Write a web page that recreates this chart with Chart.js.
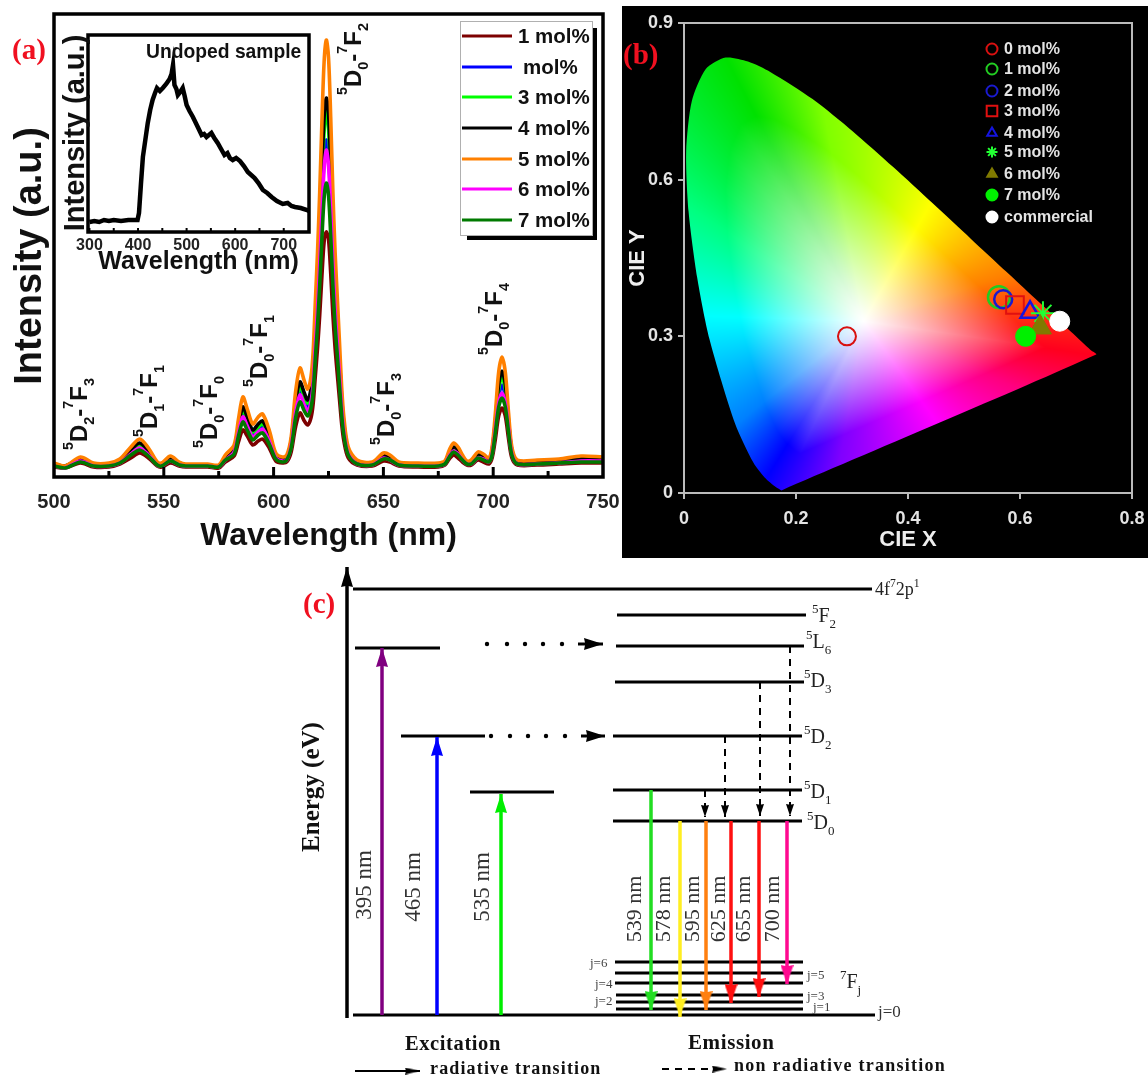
<!DOCTYPE html>
<html><head><meta charset="utf-8">
<script src="https://cdn.jsdelivr.net/npm/chart.js@4"></script>
<style>
html,body{margin:0;padding:0;background:#fff}
#page{position:relative;width:1148px;height:1080px;overflow:hidden}
canvas{position:absolute;display:block;filter:blur(.4px)}
</style></head>
<body><div id="page">
<canvas id="panelA" width="622" height="560" style="left:0;top:0;width:622px;height:560px"></canvas>
<canvas id="inset" width="260" height="255" style="left:60px;top:25px;width:260px;height:255px"></canvas>
<canvas id="panelB" width="526" height="552" style="left:622px;top:6px;width:526px;height:552px"></canvas>
<canvas id="panelC" width="710" height="525" style="left:290px;top:555px;width:710px;height:525px"></canvas>
</div>
<script>
/* ---------- panel (a) data ---------- */
const wavelengths=[500,505,512,518,525,530,535,539,543,547,549,553,557,560,570,575,578,582,584,586,588,590.5,593,595,598,601,604,606,608,610,612,614,615.5,617,618,619,620,621,622,623,624,625,626,627,628,629,630,631,632,634,638,645,650,653,657,665,675,678,680,682,684,686,688,690,693,695.5,698,699.5,701,702.5,704,705.5,707,708.5,711,720,730,740,750];
const mol1=[10,9,14,10,10,13,19,24,19,11,10,14,11,10,10,9,15,21,35,47,41,32,36,38,29,16,14,15,25,50,64,56,52,59,73,101,129,162,201,235,245,238,204,162,129,103,78,53,36,19,12,11,16,15,11,10,10,12,18,22,19,15,12,12,17,15,13,19,38,61,69,61,38,19,12,12,13,14,14];
const mol2=[12,10,17,12,12,15,24,31,24,13,12,18,13,11,11,11,18,26,46,63,54,42,47,50,37,20,17,18,32,67,85,75,69,78,97,135,174,220,273,319,337,323,277,220,174,139,105,70,47,24,15,13,20,18,13,12,12,14,22,28,24,18,14,15,21,19,16,24,50,81,92,81,50,24,15,15,15,18,17];
const mol3=[12,10,17,12,12,15,25,32,25,13,12,18,13,11,11,11,19,27,49,67,57,45,50,53,40,20,17,19,34,71,91,80,74,84,104,146,187,237,295,345,367,349,299,237,187,150,113,75,50,25,15,13,20,19,13,12,12,14,23,29,25,19,14,15,21,20,16,25,54,88,100,88,54,25,15,15,15,18,17];
const mol4=[13,11,18,13,13,17,27,34,26,14,13,19,14,12,12,11,20,29,51,70,60,47,53,56,42,22,18,20,36,75,95,84,77,88,109,152,196,248,308,360,379,364,312,248,196,157,118,79,53,27,16,14,22,20,14,13,13,15,24,30,27,20,15,16,23,21,17,27,56,93,106,93,56,27,16,16,17,19,18];
const mol5=[14,11,20,14,14,18,30,38,29,15,14,21,15,13,13,12,22,32,58,80,68,53,60,63,47,24,20,22,40,85,109,96,88,100,125,175,225,285,355,415,437,420,360,285,225,180,135,90,60,30,17,15,24,22,15,14,14,16,27,34,30,22,16,17,25,23,19,30,64,105,120,105,64,30,17,17,18,21,20];
const mol6=[11,9,16,11,11,14,23,29,22,12,11,16,12,11,11,10,17,25,44,60,51,40,45,48,36,19,16,17,31,64,82,72,66,75,93,130,167,212,264,308,327,312,267,212,167,134,101,68,45,23,13,12,19,17,12,11,11,13,21,26,23,17,13,13,19,18,15,23,48,74,84,74,48,23,13,13,14,16,16];
const mol7=[11,9,15,11,11,14,22,27,21,12,11,16,12,11,11,10,17,23,41,55,47,37,42,44,33,18,15,17,29,59,75,66,61,69,85,119,152,192,239,279,294,282,242,192,152,122,92,62,42,22,13,12,18,17,12,11,11,13,20,25,22,17,13,13,19,17,15,22,45,70,79,70,45,22,13,13,14,15,15];
const seriesLabels=['1 mol%',' mol%','3 mol%','4 mol%','5 mol%','6 mol%','7 mol%'];
const seriesColors=['#7d0000','#0000ff','#00ff00','#000000','#ff8000','#ff00ff','#007a00'];
const majorTicksA=[550,600,650,700];
const minorTicksA=[525,575,625,675,725];
/* ---------- inset data ---------- */
const undopedWl=[300,310,320,330,340,350,365,380,399,402,406,410,415,420,425,430,435,439,445,451,458,465,469,472,475,479,482,487,492,496,500,506,513,522,531,536,541,546,551,557,564,571,578,584,589,595,602,610,618,626,633,640,648,657,666,675,686,698,708,716,723,735,748,752];
const undopedI=[10,11,10,12,11,12,11,12,12,19,48,75,92,109,122,132,139,144,141,144,148,153,158,167,147,143,137,140,144,136,127,121,115,106,97,98,95,97,99,94,89,83,77,79,74,72,74,71,66,60,57,54,49,42,39,35,31,28,29,26,25,24,22,21];
const insetTicks=[300,350,400,450,500,550,600,650,700];
/* ---------- panel (b) data ---------- */
const locusX=[.1741,.1644,.1440,.1241,.0913,.0454,.0235,.0082,.0039,.0139,.0389,.0743,.1142,.1547,.2296,.3016,.3731,.4441,.5125,.5752,.6270,.6915,.7260,.7360,.1741];
const locusY=[.0050,.0109,.0297,.0578,.1327,.2950,.4127,.5384,.6548,.7502,.8120,.8338,.8262,.8059,.7543,.6923,.6245,.5547,.4866,.4242,.3725,.3083,.2740,.2650,.0050];
const cieLabels=['0 mol%','1 mol%','2 mol%','3 mol%','4 mol%','5 mol%','6 mol%','7 mol%','commercial'];
const cieX=[.291,.5625,.570,.591,.618,.641,.636,.610,.671];
const cieY=[.300,.375,.371,.360,.346,.344,.317,.300,.329];
const cieColors=['#d81010','#22cc22','#1a1ad0','#e01010','#1414e0','#22ff33','#807a00','#00f000','#ffffff'];
const cieStyles=['circle','circle','circle','rect','triangle','star','triangle','circle','circle'];
const cieFilled=[false,false,false,false,false,false,true,true,true];
const cieXTicks=['0','0.2','0.4','0.6','0.8'];
const cieYTicks=['0','0.3','0.6','0.9'];
/* ---------- panel (c) data ---------- */
const levelNames=['4f72p1','ex395','ex465','ex535','5F2','5L6','5D3','5D2','5D1','5D0','j6','j5','j4','j3','j2','j1','j0'];
const levelEnergy=[426,367,279,223,400,369,333,279,225,194,53,42,32,20,13,6,0];
const levelStart=[353,355,401,470,617,616,615,613,613,613,615,615,615,616,616,616,353];
const levelEnd=[872,440,485,554,806,804,804,802,802,802,803,803,803,803,803,803,875];
const excitationPos=[382,437,501];
const excitationTop=[367,278,221];
const excitationColors=['#800080','#0000ff','#00ee00'];
const emissionPos=[651,680,706,731,759,787];
const emissionFrom=[225,194,194,194,194,194];
const emissionTo=[5,-2,5,12,18,31];
const emissionColors=['#22dd22','#ffee22','#ff8010','#ff1010','#ff1010','#ff0a90'];
const relaxPos=[790,760,725,705];
const relaxFrom=[369,333,279,225];
const relaxTo=[199,199,198,198];
const dotRows=[[487,507,525,543,562],[491,510,528,546,565]];
const dotEnergy=[371,279];
const dotArrowStart=[578,581];
const dotArrowTip=[603,605];

/* ---------- helpers ---------- */
Chart.defaults.font.family="'Liberation Sans',Arial,sans-serif";
Chart.defaults.animation=false;
Chart.defaults.layout.autoPadding=false;
const SANS="'Liberation Sans',Arial,sans-serif", SERIF="'Liberation Serif','Times New Roman',serif";
function rich(ctx,o){
  const size=o.size, weight=o.bold?'bold ':'', fam=o.fam||SANS;
  ctx.save();
  ctx.translate(o.x,o.y); if(o.rot) ctx.rotate(o.rot*Math.PI/180);
  ctx.fillStyle=o.color||'#111'; ctx.textBaseline=o.base||'alphabetic'; ctx.textAlign='left';
  if(o.spacing) ctx.letterSpacing=o.spacing+'px';
  const subK=o.subK||.6;
  const parts=[]; const s=o.text;
  for(let i=0;i<s.length;i++){
    if(s[i]==='^'||s[i]==='_'){parts.push([s[i+1],s[i]]);i++;}
    else parts.push([s[i],'']);
  }
  let runs=[];
  for(const p of parts){ if(runs.length&&runs[runs.length-1][1]===p[1]) runs[runs.length-1][0]+=p[0]; else runs.push([p[0],p[1]]); }
  let total=0;
  const fontOf=k=>weight+(k?size*subK:size)+'px '+fam;
  for(const r of runs){ctx.font=fontOf(r[1]); total+=ctx.measureText(r[0]).width;}
  let x=o.center?-total/2:0;
  for(const r of runs){
    ctx.font=fontOf(r[1]);
    const dy=r[1]==='^'?-size*(o.supUp||.6):r[1]==='_'?size*(o.subDown||.3):0;
    ctx.fillText(r[0],x,dy);
    x+=ctx.measureText(r[0]).width;
  }
  ctx.restore();
}
function head(color,w,h){
  const c=document.createElement('canvas'); c.width=w; c.height=2*h;
  const g=c.getContext('2d'); g.fillStyle=color;
  g.beginPath(); g.moveTo(0,0); g.lineTo(w/2,h*.06); g.lineTo(w,0); g.lineTo(w/2,h); g.closePath(); g.fill();
  return c;
}
function frame(ctx,a,w,color){
  ctx.save(); ctx.strokeStyle=color||'#000'; ctx.lineWidth=w; ctx.strokeRect(a.left,a.top,a.right-a.left,a.bottom-a.top); ctx.restore();
}

/* ---------- panel (a) ---------- */
const aAnnotations=[
 ['^5D_2-^7F_3',515,27],['^5D_1-^7F_1',547,40],['^5D_0-^7F_0',574.2,29],['^5D_0-^7F_1',597,90],
 ['^5D_0-^7F_2',639.8,382],['^5D_0-^7F_3',654.8,32],['^5D_0-^7F_4',704,122]];
const legendARows=[36,67,97,128,159,189,220];
new Chart(document.getElementById('panelA'),{
  type:'line',
  data:{labels:wavelengths,datasets:[mol1,mol2,mol3,mol4,mol5,mol6,mol7].map((d,i)=>({
    label:seriesLabels[i],data:d.map((v,j)=>({x:wavelengths[j],y:v})),borderColor:seriesColors[i],backgroundColor:seriesColors[i],
    borderWidth:3.6,pointRadius:0,tension:.3,order:6-i}))},
  options:{responsive:false,maintainAspectRatio:false,
    layout:{padding:{left:54,right:19,top:14,bottom:0}},
    plugins:{legend:{display:false},tooltip:{enabled:false}},
    scales:{
      x:{type:'linear',min:500,max:750,grid:{display:false,drawTicks:false},border:{display:false},
        afterFit(s){s.height=83;s.paddingLeft=0;s.paddingRight=0;},
        ticks:{stepSize:50,autoSkip:false,maxRotation:0,padding:13,color:'#222',font:{size:20,weight:'bold'}},
        title:{display:true,text:'Wavelength (nm)',color:'#111',padding:5,font:{size:32,weight:'bold'}}},
      y:{display:false,min:0,max:463}
    }},
  plugins:[{id:'deco',afterDraw(c){
    const g=c.ctx,a=c.chartArea,X=c.scales.x,Y=c.scales.y;
    frame(g,a,3.5);
    g.save();g.strokeStyle='#000';
    g.lineWidth=3;majorTicksA.forEach(t=>{const p=X.getPixelForValue(t);g.beginPath();g.moveTo(p,a.bottom);g.lineTo(p,a.bottom-10);g.stroke();});
    g.lineWidth=3;minorTicksA.forEach(t=>{const p=X.getPixelForValue(t);g.beginPath();g.moveTo(p,a.bottom);g.lineTo(p,a.bottom-6);g.stroke();});
    g.restore();
    aAnnotations.forEach(r=>rich(g,{text:r[0],x:X.getPixelForValue(r[1]),y:Y.getPixelForValue(r[2]),rot:-90,size:24,bold:true,color:'#111'}));
    rich(g,{text:'Intensity (a.u.)',x:41,y:256,rot:-90,size:38,bold:true,center:true,color:'#111'});
    rich(g,{text:'(a)',x:12,y:59,size:29,bold:true,fam:SERIF,color:'#f01020'});
    /* legend */
    g.save();
    g.fillStyle='#000';g.fillRect(467,230,130,10);g.fillRect(587,28,10,212);
    g.fillStyle='#fff';g.fillRect(460.5,21.5,132,214);g.strokeStyle='#b0b0b0';g.lineWidth=1;g.strokeRect(460.5,21.5,132,214);
    seriesLabels.forEach((t,i)=>{
      g.strokeStyle=seriesColors[i];g.lineWidth=3;g.beginPath();g.moveTo(462,legendARows[i]);g.lineTo(512,legendARows[i]);g.stroke();
      g.fillStyle='#111';g.font='bold 20.5px '+SANS;g.textBaseline='middle';g.textAlign='left';
      g.fillText(t.trim(),t[0]===' '?523:518,legendARows[i]+1);
    });
    g.restore();
  }}]
});

/* ---------- inset ---------- */
new Chart(document.getElementById('inset'),{
  type:'line',
  data:{datasets:[{label:'Undoped sample',data:undopedWl.map((w,i)=>({x:w,y:undopedI[i]})),borderColor:'#000',borderWidth:4.5,pointRadius:0,tension:0}]},
  options:{responsive:false,maintainAspectRatio:false,
    layout:{padding:{left:28,right:11,top:10,bottom:0}},
    plugins:{legend:{display:false},tooltip:{enabled:false}},
    scales:{
      x:{type:'linear',min:297,max:752,grid:{display:false,drawTicks:false},border:{display:false},
        afterFit(s){s.height=48;s.paddingLeft=0;s.paddingRight=0;},
        afterBuildTicks(s){s.ticks=[300,400,500,600,700].map(v=>({value:v}));},
        ticks:{autoSkip:false,maxRotation:0,padding:4,color:'#222',font:{size:16,weight:'bold'}},
        title:{display:true,text:'Wavelength (nm)',color:'#111',padding:3,font:{size:25,weight:'bold'}}},
      y:{display:false,min:0,max:197}
    }},
  plugins:[{id:'insetDeco',afterDraw(c){
    const g=c.ctx,a=c.chartArea,X=c.scales.x;
    frame(g,a,3.5);
    g.save();g.strokeStyle='#000';g.lineWidth=2;
    insetTicks.forEach(t=>{const p=X.getPixelForValue(t);g.beginPath();g.moveTo(p,a.bottom);g.lineTo(p,a.bottom-4);g.stroke();});
    g.restore();
    rich(g,{text:'Undoped sample',x:86,y:33,size:19.3,bold:true,color:'#111'});
    rich(g,{text:'Intensity (a.u.)',x:24,y:108,rot:-90,size:29,bold:true,center:true,color:'#111'});
  }}]
});

/* ---------- panel (b) ---------- */
const hueStops=[[-9,255,0,30],[19,255,128,0],[62,255,255,0],[100,128,255,0],[116,0,225,0],[145,0,255,128],[178,0,255,255],[221,0,128,255],[240,0,0,255],[261,128,0,255],[304,255,0,255],[335,255,0,128],[351,255,0,30]];
function gamut(chart){
  if(!chart.chartArea) return 'transparent';
  if(chart.$pattern) return chart.$pattern;
  const W=chart.width,H=chart.height,off=document.createElement('canvas');off.width=W;off.height=H;
  const g=off.getContext('2d'),im=g.createImageData(W,H),X=chart.scales.x,Y=chart.scales.y;
  const wx=.32,wy=.33,n=locusX.length-1;
  for(let py=0;py<H;py++)for(let px=0;px<W;px++){
    const x=X.getValueForPixel(px),y=Y.getValueForPixel(py);
    if(x<-.01||x>.76||y<-.01||y>.86) continue;
    const dx=x-wx,dy=y-wy,d=Math.hypot(dx,dy)||1e-6;
    let ang=Math.atan2(dy,dx)*180/Math.PI; if(ang<-9) ang+=360;
    let k=0; while(k<hueStops.length-2&&ang>hueStops[k+1][0]) k++;
    const A=hueStops[k],B=hueStops[k+1],f=Math.min(1,Math.max(0,(ang-A[0])/(B[0]-A[0])));
    let R=1;
    for(let i=0;i<n;i++){
      const ex=locusX[i+1]-locusX[i],ey=locusY[i+1]-locusY[i],ox=locusX[i]-wx,oy=locusY[i]-wy;
      const den=dx/d*ey-dy/d*ex; if(Math.abs(den)<1e-9) continue;
      const t=(ox*ey-oy*ex)/den,u=(ox*dy/d-oy*dx/d)/den;
      if(t>0&&u>=0&&u<=1){R=t;break;}
    }
    const s=Math.pow(Math.min(1,d/(.78*R)),1.1);
    const i=(py*W+px)*4;
    for(let c=0;c<3;c++){const hue=A[c+1]+(B[c+1]-A[c+1])*f; im.data[i+c]=255+(hue-255)*s;}
    im.data[i+3]=255;
  }
  g.putImageData(im,0,0);
  chart.$pattern=chart.ctx.createPattern(off,'no-repeat');
  return chart.$pattern;
}
const legendBRows=[49,69,91,111,133,152,174,195,217];
const cieRadius=[9,11,9,12.5,11,12,13,10,10];
const cieBorder=[2,2.5,2.5,2,2.5,2,1,1,1];
new Chart(document.getElementById('panelB'),{
  type:'scatter',
  data:{datasets:[
    {label:'gamut',data:locusX.map((x,i)=>({x,y:locusY[i]})),showLine:true,tension:.25,fill:'shape',
     backgroundColor:c=>gamut(c.chart),borderWidth:0,pointRadius:0,order:50},
    ...cieLabels.map((t,i)=>({label:t,data:[{x:cieX[i],y:cieY[i]}],pointStyle:cieStyles[i],pointRadius:cieRadius[i],
      pointBorderWidth:cieBorder[i],pointBorderColor:cieColors[i],pointBackgroundColor:cieFilled[i]?cieColors[i]:'rgba(0,0,0,0)',order:20-i}))
  ]},
  options:{responsive:false,maintainAspectRatio:false,
    layout:{padding:{left:0,right:16,top:17,bottom:0}},
    plugins:{legend:{display:false},tooltip:{enabled:false}},
    scales:{
      x:{type:'linear',min:0,max:.8,
        grid:{drawOnChartArea:false,tickLength:6,color:'#bbb',lineWidth:2},border:{display:false},
        afterFit(s){s.height=65;s.paddingLeft=0;s.paddingRight=0;},
        ticks:{stepSize:.2,autoSkip:false,maxRotation:0,padding:9,color:'#e4e4e4',font:{size:18,weight:'bold'},callback:(v,i)=>cieXTicks[i]},
        title:{display:true,text:'CIE X',color:'#eee',padding:5,font:{size:22,weight:'bold'}}},
      y:{type:'linear',min:0,max:.9,
        grid:{drawOnChartArea:false,tickLength:6,color:'#bbb',lineWidth:2},border:{display:false},
        afterFit(s){s.width=62;s.paddingTop=0;s.paddingBottom=0;},
        ticks:{stepSize:.3,autoSkip:false,padding:5,color:'#e4e4e4',font:{size:18,weight:'bold'},callback:(v,i)=>cieYTicks[i]},
        title:{display:true,text:'CIE Y',color:'#eee',padding:3,font:{size:22,weight:'bold'}}}
    }},
  plugins:[{id:'bg',beforeDraw(c){const g=c.ctx;g.save();g.fillStyle='#000';g.fillRect(0,0,c.width,c.height);g.restore();},
    beforeDatasetsDraw(c){frame(c.ctx,c.chartArea,2,'#bbb');},
    afterDraw(c){
      const g=c.ctx;
      cieLabels.forEach((t,i)=>{
        const y=legendBRows[i]-6;
        g.save();g.strokeStyle=cieColors[i];g.fillStyle=cieFilled[i]?cieColors[i]:'rgba(0,0,0,0)';g.lineWidth=2;
        Chart.helpers.drawPoint(g,{pointStyle:cieStyles[i],radius:cieStyles[i]==='rect'?7.5:5.5,rotation:0,borderWidth:2},370,y);
        g.restore();
        g.fillStyle='#e4e4e4';g.font='bold 16px '+SANS;g.textBaseline='middle';g.textAlign='left';g.fillText(t,382,y+1);
      });
      rich(g,{text:'(b)',x:1,y:58,size:29,bold:true,fam:SERIF,color:'#f01020'});
    }}]
});

/* ---------- panel (c) ---------- */
const stem=(label,x,from,to,color,w,hw,hl,dash)=>({label,data:[{x,y:from},{x,y:to}],showLine:true,borderColor:color,borderWidth:w,
  borderDash:dash||[],pointRadius:[0,1],pointStyle:head(color,hw,hl),pointRotation:to>from?180:0,tension:0,clip:false,order:1});
const ds=[];
levelNames.forEach((n,i)=>ds.push({label:n,data:[{x:levelStart[i],y:levelEnergy[i]},{x:levelEnd[i],y:levelEnergy[i]}],showLine:true,borderColor:'#000',borderWidth:3,pointRadius:0,order:5}));
ds.push(stem('Energy axis',347,-3,448,'#000',3.5,12,20));
excitationPos.forEach((x,i)=>ds.push(stem('excitation',x,0,excitationTop[i],excitationColors[i],3.5,12,19)));
emissionPos.forEach((x,i)=>ds.push(stem('emission',x,emissionFrom[i],emissionTo[i],emissionColors[i],3.5,13,19)));
relaxPos.forEach((x,i)=>ds.push(stem('relaxation',x,relaxFrom[i],relaxTo[i],'#000',2,8,12,[7,6])));
dotRows.forEach((r,i)=>{
  ds.push({label:'dots',data:r.map(x=>({x,y:dotEnergy[i]})),pointRadius:2.2,pointBackgroundColor:'#000',pointBorderWidth:0});
  ds.push({label:'transfer',data:[{x:dotArrowStart[i],y:dotEnergy[i]},{x:dotArrowTip[i],y:dotEnergy[i]}],showLine:true,borderColor:'#000',borderWidth:3,
    pointRadius:[0,1],pointStyle:head('#000',12,19),pointRotation:-90});
});
ds.push({label:'radiative',data:[{x:355,y:-56},{x:420,y:-56}],showLine:true,borderColor:'#000',borderWidth:2,pointRadius:[0,1],pointStyle:head('#000',7,15),pointRotation:-90});
ds.push({label:'non radiative',data:[{x:662,y:-54},{x:727,y:-54}],showLine:true,borderColor:'#000',borderWidth:2,borderDash:[7,6],pointRadius:[0,1],pointStyle:head('#000',7,15),pointRotation:-90});
const cText=[
 ['4f^72p^1',875,420,18,'#222'],['^5F_2',812,393,20,'#222'],['^5L_6',806,367,20,'#222'],['^5D_3',804,328,20,'#222'],
 ['^5D_2',804,272,20,'#222'],['^5D_1',804,217,20,'#222'],['^5D_0',807,186,20,'#222'],['^7F_j',840,27,20,'#222'],
 ['j=6',590,48,13,'#444'],['j=4',595,27,13,'#444'],['j=2',595,10,13,'#444'],['j=5',807,36,13,'#444'],['j=3',807,15,13,'#444'],['j=1',813,4,13,'#444'],['j=0',878,-2,17,'#333']];
const cRot=[['395 nm',371,885,23],['465 nm',420,887,23],['535 nm',489,887,23],
 ['539 nm',641,909,22],['578 nm',670,909,22],['595 nm',699,909,22],['625 nm',725,909,22],['655 nm',750,909,22],['700 nm',779,909,22]];
new Chart(document.getElementById('panelC'),{
  type:'scatter',data:{datasets:ds},
  options:{responsive:false,maintainAspectRatio:false,layout:{padding:0},
    plugins:{legend:{display:false},tooltip:{enabled:false}},
    scales:{x:{display:false,type:'linear',min:290,max:1000},y:{display:false,type:'linear',min:-65,max:460}}},
  plugins:[{id:'cText',afterDraw(c){
    const g=c.ctx,X=c.scales.x,Y=c.scales.y;
    cText.forEach(t=>rich(g,{text:t[0],x:X.getPixelForValue(t[1]),y:Y.getPixelForValue(t[2]),size:t[3],fam:SERIF,color:t[4],subK:.65,supUp:.45}));
    cRot.forEach(t=>rich(g,{text:t[0],x:X.getPixelForValue(t[1]),y:t[2]-555,rot:-90,size:t[3],fam:SERIF,color:'#333',center:true}));
    rich(g,{text:'Energy (eV)',x:319-290,y:787-555,rot:-90,size:25,bold:true,fam:SERIF,center:true,color:'#111'});
    rich(g,{text:'(c)',x:13,y:58,size:29,bold:true,fam:SERIF,color:'#f01020'});
    rich(g,{text:'Excitation',x:115,y:495,size:20.5,bold:true,fam:SERIF,color:'#111',spacing:.6});
    rich(g,{text:'Emission',x:398,y:494,size:21,bold:true,fam:SERIF,color:'#111',spacing:.6});
    rich(g,{text:'radiative transition',x:140,y:519,size:18,bold:true,fam:SERIF,color:'#111',spacing:1.15});
    rich(g,{text:'non radiative transition',x:444,y:516,size:18,bold:true,fam:SERIF,color:'#111',spacing:1.25});
  }}]
});
</script>
</body></html>
